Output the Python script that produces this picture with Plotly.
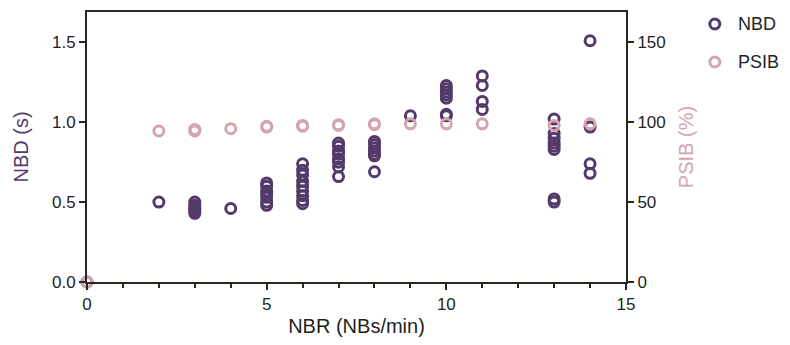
import plotly.graph_objects as go

# NBD (s) vs NBR
nbd_x = [0, 2, 3, 3, 3, 3, 3, 3, 3, 4,
         5, 5, 5, 5, 5, 5, 5,
         6, 6, 6, 6, 6, 6, 6, 6, 6,
         7, 7, 7, 7, 7, 7, 7, 7,
         8, 8, 8, 8, 8, 8, 8,
         9,
         10, 10, 10, 10, 10, 10, 10,
         11, 11, 11, 11,
         13, 13, 13, 13, 13, 13, 13, 13,
         14, 14, 14, 14]
nbd_y = [0.0, 0.50, 0.50, 0.48, 0.47, 0.46, 0.45, 0.44, 0.43, 0.46,
         0.62, 0.60, 0.57, 0.55, 0.53, 0.50, 0.48,
         0.74, 0.70, 0.67, 0.63, 0.60, 0.57, 0.54, 0.51, 0.49,
         0.87, 0.85, 0.82, 0.80, 0.77, 0.75, 0.72, 0.66,
         0.88, 0.86, 0.84, 0.82, 0.80, 0.79, 0.69,
         1.04,
         1.23, 1.21, 1.19, 1.17, 1.15, 1.05, 1.04,
         1.29, 1.23, 1.13, 1.08,
         1.02, 0.93, 0.90, 0.87, 0.85, 0.83, 0.52, 0.50,
         1.51, 0.97, 0.74, 0.68]

# PSIB (%) vs NBR
psib_x = [0, 2, 3, 3, 3, 4, 5, 5, 6, 6, 7, 7, 8, 8, 9, 10, 11, 13, 14]
psib_y = [0, 94.5, 95.5, 95.0, 94.5, 96.0, 97.0, 97.5, 97.5, 98.0,
          98.0, 98.5, 98.5, 99.0, 99.0, 99.0, 99.0, 98.0, 99.0]

series_names = ["NBD", "PSIB"]

x_ticks = [0, 5, 10, 15]
y_ticks = [0.0, 0.5, 1.0, 1.5]
y2_ticks = [0, 50, 100, 150]

PURPLE = "#533a6b"
PINK = "#d3a5ac"
AXC = "#2b2520"
TXT = "#231f1c"
FONT = "Liberation Sans, Arial, sans-serif"

fig = go.Figure()
fig.add_trace(go.Scatter(
    x=psib_x, y=psib_y, mode="markers", name=series_names[1], yaxis="y2",
    showlegend=False,
    marker=dict(symbol="circle-open", size=10, color=PINK, line=dict(width=3, color=PINK)),
    cliponaxis=False,
))
fig.add_trace(go.Scatter(
    x=nbd_x, y=nbd_y, mode="markers", name=series_names[0],
    showlegend=False,
    marker=dict(symbol="circle-open", size=10, color=PURPLE, line=dict(width=3, color=PURPLE)),
    cliponaxis=False,
))

# legend drawn manually (outside plot, right side)
leg_colors = [PURPLE, PINK]
leg_y = [0.9556, 0.8148]
for name, col, ly in zip(series_names, leg_colors, leg_y):
    fig.add_shape(type="circle", xref="paper", yref="paper",
                  xsizemode="pixel", ysizemode="pixel",
                  xanchor=1.1648, yanchor=ly, x0=-5, x1=5, y0=-5, y1=5,
                  line=dict(color=col, width=3), fillcolor="rgba(0,0,0,0)")
    fig.add_annotation(text=name, xref="paper", yref="paper", x=1.2037, y=ly,
                       xanchor="left", yanchor="middle", showarrow=False,
                       font=dict(size=18, color=TXT, family=FONT))

fig.update_layout(
    width=782, height=329,
    margin=dict(l=79, r=164, t=4, b=55, autoexpand=False),
    paper_bgcolor="white", plot_bgcolor="white",
    font=dict(family=FONT, size=17, color=TXT),
    showlegend=False,
    xaxis=dict(range=[0, 15], tickvals=x_ticks, ticktext=[str(v) for v in x_ticks],
               automargin=False,
               showgrid=False, zeroline=False, showline=True, linecolor=AXC, linewidth=2,
               mirror=True, ticks="outside", ticklen=6, tickwidth=2, tickcolor=AXC,
               minor=dict(dtick=1, tick0=0, ticks="outside", ticklen=4, tickwidth=2, tickcolor=AXC),
               title=dict(text="NBR (NBs/min)", font=dict(size=20), standoff=6),
               tickfont=dict(size=17)),
    yaxis=dict(range=[0, 1.69], tickvals=y_ticks, ticktext=[f"{v:.1f}" for v in y_ticks],
               automargin=False,
               showgrid=False, zeroline=False, showline=True, linecolor=AXC, linewidth=2,
               ticks="outside", ticklen=6, tickwidth=2, tickcolor=AXC,
               title=dict(text="NBD (s)", font=dict(size=20, color=PURPLE), standoff=18),
               tickfont=dict(size=17)),
    yaxis2=dict(range=[0, 169], tickvals=y2_ticks, ticktext=[str(v) for v in y2_ticks],
                overlaying="y", side="right", automargin=False,
                showgrid=False, zeroline=False, showline=True, linecolor=AXC, linewidth=2,
                ticks="outside", ticklen=6, tickwidth=2, tickcolor=AXC,
                title=dict(text="PSIB (%)", font=dict(size=20, color=PINK), standoff=14),
                tickfont=dict(size=17)),
)

fig.write_html("out.html")
